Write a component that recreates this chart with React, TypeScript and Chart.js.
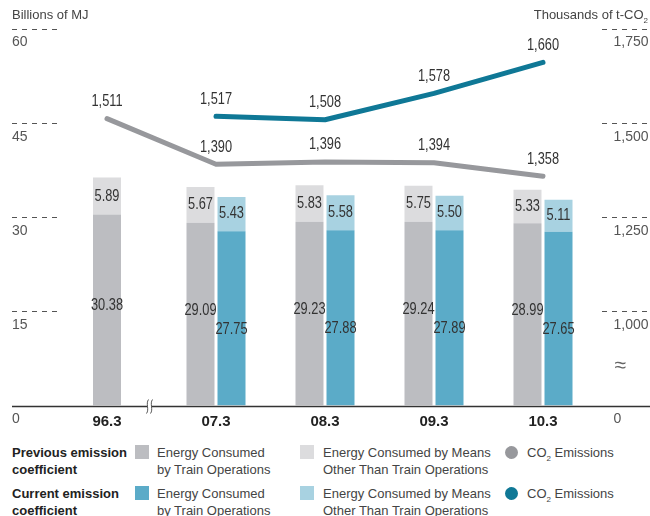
import React, { useEffect, useRef } from 'react';
import { Chart, registerables } from 'chart.js';

Chart.register(...registerables);

const CATEGORIES = ['96.3', '07.3', '08.3', '09.3', '10.3'];
const PREV_TRAIN = [30.38, 29.09, 29.23, 29.24, 28.99];
const PREV_OTHER = [5.89, 5.67, 5.83, 5.75, 5.33];
const CUR_TRAIN = [null, 27.75, 27.88, 27.89, 27.65];
const CUR_OTHER = [null, 5.43, 5.58, 5.5, 5.11];
const PREV_CO2 = [1511, 1390, 1396, 1394, 1358];
const CUR_CO2 = [null, 1517, 1508, 1578, 1660];

const LEFT_MIN = 0;
const LEFT_MAX = 60;
const LEFT_STEP = 15;
const RIGHT_MIN = 750; // shown as "0" (broken axis)
const RIGHT_MAX = 1750;
const RIGHT_STEP = 250;
const RIGHT_BREAK_VALUE = 855;
const X_BREAK_INDEX = 0.39;

const FONT = '"Liberation Sans", Arial, Helvetica, sans-serif';

const C_PREV_TRAIN = '#bcbdc1';
const C_PREV_OTHER = '#dcdcde';
const C_CUR_TRAIN = '#5babc8';
const C_CUR_OTHER = '#a8d2e1';
const C_PREV_LINE = '#97989c';
const C_CUR_LINE = '#0f7896';

function condensedText(ctx: any, text: string, x: number, y: number) {
  ctx.save();
  ctx.translate(x, y);
  ctx.scale(0.8, 1);
  ctx.fillText(text, 0, 0);
  ctx.restore();
}

const decorPlugin = {
  id: 'decor',
  afterDatasetsDraw(chart: any) {
    const ctx = chart.ctx;
    const x = chart.scales.x;
    const y = chart.scales.y;
    const y2 = chart.scales.y2;
    ctx.save();

    // dashed tick marks
    ctx.strokeStyle = '#555';
    ctx.lineWidth = 1;
    ctx.setLineDash([5, 5]);
    y.ticks.forEach((t: any) => {
      if (t.value === LEFT_MIN) return;
      const py = Math.round(y.getPixelForValue(t.value)) + 0.5;
      ctx.beginPath();
      ctx.moveTo(y.left, py);
      ctx.lineTo(y.left + 46, py);
      ctx.stroke();
    });
    y2.ticks.forEach((t: any) => {
      if (t.value === RIGHT_MIN) return;
      const py = Math.round(y2.getPixelForValue(t.value)) + 0.5;
      ctx.beginPath();
      ctx.moveTo(y2.right - 46, py);
      ctx.lineTo(y2.right, py);
      ctx.stroke();
    });
    ctx.setLineDash([]);

    // value labels
    ctx.fillStyle = '#333';
    ctx.textAlign = 'center';
    ctx.textBaseline = 'middle';
    ctx.font = '16px ' + FONT;
    chart.data.datasets.forEach((ds: any, di: number) => {
      const meta = chart.getDatasetMeta(di);
      meta.data.forEach((el: any, i: number) => {
        const v = ds.data[i];
        if (v === null || v === undefined) return;
        if (ds.type === 'line') {
          condensedText(ctx, v.toLocaleString('en-US'), el.x, el.y - 17);
        } else {
          let py = (el.y + el.base) / 2;
          if (ds.kind === 'prevTrain') py -= 4;
          if (ds.kind === 'curTrain') py += 11;
          condensedText(ctx, v.toFixed(2), el.x, py);
        }
      });
    });

    // x axis line
    const axisY = Math.round(y.getPixelForValue(LEFT_MIN)) + 0.5;
    ctx.strokeStyle = '#333';
    ctx.lineWidth = 1.5;
    ctx.beginPath();
    ctx.moveTo(y.left, axisY);
    ctx.lineTo(y2.right + 2, axisY);
    ctx.stroke();

    // axis break marks on x axis
    const bx = x.getPixelForValue(X_BREAK_INDEX);
    ctx.fillStyle = '#fff';
    ctx.fillRect(bx - 2, axisY - 2, 4, 4);
    ctx.strokeStyle = '#444';
    ctx.lineWidth = 0.9;
    [-2, 2].forEach((off) => {
      const cx = bx + off;
      ctx.beginPath();
      ctx.moveTo(cx + 1, axisY - 7);
      ctx.bezierCurveTo(cx - 2, axisY - 3, cx + 2, axisY + 3, cx - 1, axisY + 7);
      ctx.stroke();
    });

    // ≈ on right axis
    ctx.fillStyle = '#666';
    ctx.textAlign = 'left';
    ctx.font = '21px ' + FONT;
    ctx.fillText('≈', y2.left + 17, y2.getPixelForValue(RIGHT_BREAK_VALUE));
    ctx.restore();
  },
};

export default function App() {
  const ref = useRef<HTMLCanvasElement>(null);

  useEffect(() => {
    document.body.style.margin = '0';
    const barCommon = {
      skipNull: true,
      maxBarThickness: 28,
      categoryPercentage: 0.569,
      barPercentage: 0.903,
      yAxisID: 'y',
      borderWidth: 0,
    };
    const chart = new Chart(ref.current as HTMLCanvasElement, {
      type: 'bar',
      data: {
        labels: CATEGORIES,
        datasets: [
          { type: 'line', label: 'CO2 prev', data: PREV_CO2, yAxisID: 'y2', borderColor: C_PREV_LINE, borderWidth: 5, borderCapStyle: 'round', borderJoinStyle: 'round', pointRadius: 0, tension: 0, order: 0 } as any,
          { type: 'line', label: 'CO2 cur', data: CUR_CO2, yAxisID: 'y2', borderColor: C_CUR_LINE, borderWidth: 5, borderCapStyle: 'round', borderJoinStyle: 'round', pointRadius: 0, tension: 0, order: 0 } as any,
          { ...barCommon, type: 'bar', kind: 'prevTrain', data: PREV_TRAIN, stack: 'prev', backgroundColor: C_PREV_TRAIN, order: 1 } as any,
          { ...barCommon, type: 'bar', kind: 'prevOther', data: PREV_OTHER, stack: 'prev', backgroundColor: C_PREV_OTHER, order: 1 } as any,
          { ...barCommon, type: 'bar', kind: 'curTrain', data: CUR_TRAIN, stack: 'cur', backgroundColor: C_CUR_TRAIN, order: 1 } as any,
          { ...barCommon, type: 'bar', kind: 'curOther', data: CUR_OTHER, stack: 'cur', backgroundColor: C_CUR_OTHER, order: 1 } as any,
        ],
      },
      options: {
        responsive: false,
        animation: false,
        layout: { padding: { left: 12, right: 2, top: 28.5, bottom: 0 } },
        plugins: { legend: { display: false }, tooltip: { enabled: false } },
        scales: {
          x: {
            type: 'category',
            offset: true,
            grid: { display: false, drawTicks: false },
            border: { display: false },
            ticks: { color: '#222', padding: 7, font: { family: FONT, size: 15, weight: 'bold' } },
            afterFit: (s: any) => { s.height = 26.5; },
          },
          y: {
            position: 'left',
            stacked: true,
            min: LEFT_MIN,
            max: LEFT_MAX,
            grid: { display: false, drawTicks: false },
            border: { display: false },
            ticks: { stepSize: LEFT_STEP, crossAlign: 'far', labelOffset: 14, padding: 0, color: '#555', font: { family: FONT, size: 14 } },
            afterFit: (s: any) => { s.width = 40.5; },
          },
          y2: {
            position: 'right',
            stacked: false,
            min: RIGHT_MIN,
            max: RIGHT_MAX,
            grid: { display: false, drawTicks: false },
            border: { display: false },
            ticks: {
              stepSize: RIGHT_STEP,
              crossAlign: 'near',
              labelOffset: 14,
              padding: 16,
              color: '#555',
              font: { family: FONT, size: 14 },
              callback: (v: any) => (v === RIGHT_MIN ? '0' : Number(v).toLocaleString('en-US')),
            },
            afterFit: (s: any) => { s.width = 50.5; },
          },
        },
      } as any,
      plugins: [decorPlugin],
    });
    return () => chart.destroy();
  }, []);

  const legendText: React.CSSProperties = { position: 'absolute', fontSize: 13, lineHeight: '17px', color: '#444', whiteSpace: 'nowrap' };
  const boldText: React.CSSProperties = { ...legendText, fontWeight: 'bold', color: '#222' };
  const sq = (left: number, top: number, color: string): React.CSSProperties => ({ position: 'absolute', left, top, width: 14, height: 14, background: color });
  const circ = (left: number, top: number, color: string): React.CSSProperties => ({ position: 'absolute', left, top, width: 13, height: 13, borderRadius: '50%', background: color });
  const sub: React.CSSProperties = { fontSize: 8, verticalAlign: 'sub', lineHeight: 0 };

  const rows = [
    { top: 443.5, title: ['Previous emission', 'coefficient'], c1: C_PREV_TRAIN, c2: C_PREV_OTHER, c3: C_PREV_LINE },
    { top: 484.5, title: ['Current emission', 'coefficient'], c1: C_CUR_TRAIN, c2: C_CUR_OTHER, c3: C_CUR_LINE },
  ];

  return (
    <div style={{ position: 'relative', width: 650, height: 516, fontFamily: FONT, overflow: 'hidden', background: '#fff' }}>
      <canvas ref={ref} width={650} height={432} style={{ position: 'absolute', left: 0, top: 0, width: 650, height: 432 }} />
      <div style={{ ...legendText, left: 12, top: 6 }}>Billions of MJ</div>
      <div style={{ ...legendText, right: 2, top: 6 }}>Thousands of t-CO<span style={sub}>2</span></div>
      {rows.map((r, i) => (
        <React.Fragment key={i}>
          <div style={{ ...boldText, left: 12, top: r.top }}>{r.title[0]}<br />{r.title[1]}</div>
          <div style={sq(135, r.top + 1.5, r.c1)} />
          <div style={{ ...legendText, left: 157, top: r.top }}>Energy Consumed<br />by Train Operations</div>
          <div style={sq(300, r.top + 1.5, r.c2)} />
          <div style={{ ...legendText, left: 323, top: r.top }}>Energy Consumed by Means<br />Other Than Train Operations</div>
          <div style={circ(505, r.top + 2, r.c3)} />
          <div style={{ ...legendText, left: 527, top: r.top }}>CO<span style={sub}>2</span> Emissions</div>
        </React.Fragment>
      ))}
    </div>
  );
}
